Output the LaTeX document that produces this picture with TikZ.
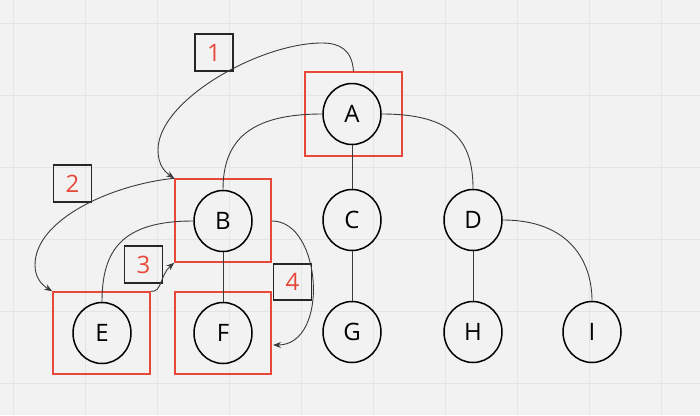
\documentclass[tikz,border=0pt]{standalone}
\usepackage{fontspec}
\setmainfont{Open Sans}
\usetikzlibrary{shapes.geometric,arrows.meta}
\definecolor{bg}{HTML}{F2F2F2}
\definecolor{gridc}{HTML}{E4E4E4}
\definecolor{redc}{HTML}{E8483A}
\definecolor{edgec}{HTML}{3A3A3A}
\tikzset{
  treenode/.style={draw=black, line width=1.5pt, ellipse, minimum width=58pt, minimum height=61pt, inner sep=0pt, font=\fontsize{24}{24}\selectfont},
  redbox/.style={draw=redc, line width=1.5pt, rectangle, inner sep=0pt},
  numbox/.style={draw=black!85, line width=1.5pt, rectangle, inner sep=0pt, minimum width=38pt, minimum height=37pt, text=redc, font=\fontsize{24}{24}\selectfont},
  treeedge/.style={draw=edgec, line width=0.9pt},
  stepedge/.style={draw=edgec, line width=0.9pt, -{Stealth[length=8pt,width=6pt]}},
  gridline/.style={draw=gridc, line width=1pt}
}
\begin{document}
\begin{tikzpicture}[x=1pt,y=-1pt]
\useasboundingbox (0,0) rectangle (700,415);
\fill[bg] (0,0) rectangle (700,415);
\foreach \gx in {13,85,157,229,301,373,445,517,589,661} {\draw[gridline] (\gx,0) -- (\gx,415);}
\foreach \gy in {23,95,167,239,311,383} {\draw[gridline] (0,\gy) -- (700,\gy);}

% red boxes
\node[redbox, minimum width=97pt, minimum height=84pt] (boxA) at (353.5,114) {};
\node[redbox, minimum width=96pt, minimum height=83pt] (boxB) at (223,220.5) {};
\node[redbox, minimum width=97pt, minimum height=82pt] (boxE) at (101.5,333) {};
\node[redbox, minimum width=96pt, minimum height=82pt] (boxF) at (223,333) {};

% tree nodes
\node[treenode] (A) at (352,114) {A};
\node[treenode] (B) at (223,221) {B};
\node[treenode] (C) at (352,220) {C};
\node[treenode] (D) at (473,220) {D};
\node[treenode] (E) at (102,333) {E};
\node[treenode] (F) at (223,333) {F};
\node[treenode] (G) at (352,332) {G};
\node[treenode] (H) at (473,332) {H};
\node[treenode] (I) at (592,332) {I};

% tree edges
\draw[treeedge] (A.west) .. controls (250,114) and (223,140) .. (B.north);
\draw[treeedge] (A.east) .. controls (452,114) and (473,140) .. (D.north);
\draw[treeedge] (A.south) -- (C.north);
\draw[treeedge] (B.west) .. controls (122,221) and (102,250) .. (E.north);
\draw[treeedge] (B.south) -- (F.north);
\draw[treeedge] (C.south) -- (G.north);
\draw[treeedge] (D.south) -- (H.north);
\draw[treeedge] (D.east) .. controls (570,220) and (592,262) .. (I.north);

% number boxes
\node[numbox] (n1) at (214,52.5) {1};
\node[numbox] (n2) at (72.5,183.5) {2};
\node[numbox] (n3) at (143.5,264.5) {3};
\node[numbox, minimum height=36pt] (n4) at (292.5,282) {4};

% step arrows
\coordinate (t1) at (322,43);
\coordinate (l1) at (158,150);
\draw[stepedge] (boxA.north) .. controls (352,50) and (340,43) .. (t1)
  .. controls (260,43) and (158,100) .. (l1)
  .. controls (158,165) and (165,172) .. (boxB.north west);
\coordinate (l2) at (35,265);
\draw[stepedge] (boxB.north west) .. controls (110,185) and (35,220) .. (l2)
  .. controls (35,278) and (42,285) .. (boxE.north west);
\draw[stepedge] (boxE.north east) .. controls (162,293) and (160,275) .. (boxB.south west);
\coordinate (b4) at (272,221);
\coordinate (f4) at (273,345);
\draw[stepedge] (b4) .. controls (322,221) and (330,345) .. (f4);
\end{tikzpicture}
\end{document}
